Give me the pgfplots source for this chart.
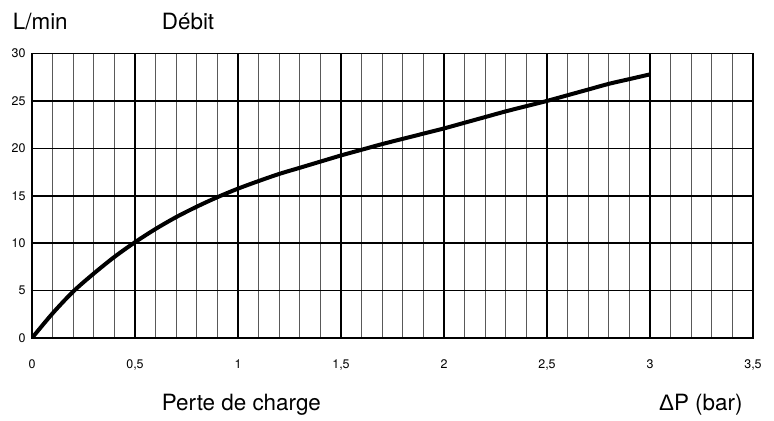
\documentclass[border=0pt]{standalone}
\usepackage{fontspec}
\setmainfont{TeX Gyre Heros}
\newfontfamily\lib{Liberation Sans}
\usepackage{pgfplots}
\pgfplotsset{compat=1.18}
\begin{document}
\begin{tikzpicture}[x=1bp,y=1bp]
\useasboundingbox (-32,-82) rectangle (742,338);
\begin{axis}[
 at={(0,0)}, anchor=south west,
 scale only axis, width=721bp, height=284.5bp,
 xmin=0,xmax=3.5,ymin=0,ymax=30,
 xtick={0,0.5,...,3.5}, xticklabels={0,{0,5},1,{1,5},2,{2,5},3,{3,5}},
 minor x tick num=4,
 ytick={0,5,...,30},
 xmajorgrids, xminorgrids, ymajorgrids,
 major grid style={black, line width=1.5bp},
 minor grid style={black!65, line width=0.9bp},
 axis line style={black, line width=1.6bp},
 major tick length=0, minor tick length=0,
 tick label style={font=\fontsize{12.5}{15}\selectfont},
 /pgf/number format/assume math mode=true,
 xticklabel style={yshift=-18bp},
 yticklabel style={xshift=-3bp},
]
\addplot[black, line width=4bp, smooth, tension=0.5] coordinates {
(0,0) (0.1,2.6) (0.2,4.9) (0.3,6.8) (0.4,8.55) (0.5,10.1) (0.6,11.5) (0.7,12.75)
(0.8,13.85) (0.9,14.85) (1.0,15.75) (1.1,16.55) (1.2,17.3) (1.3,17.95) (1.4,18.6)
(1.5,19.25) (1.6,19.85) (1.7,20.45) (1.8,21.0) (1.9,21.55) (2.0,22.1) (2.1,22.7)
(2.2,23.3) (2.3,23.9) (2.4,24.45) (2.5,25.0) (2.6,25.6) (2.7,26.2) (2.8,26.8)
(2.9,27.3) (3.0,27.8)
};
\end{axis}
\node[anchor=base west, inner sep=0, font=\fontsize{22.5}{26}\selectfont] at (-19.3,308.7) {L/min};
\node[anchor=base west, inner sep=0, font=\fontsize{22.5}{26}\selectfont] at (129.7,308.7) {Débit};
\node[anchor=base west, inner sep=0, font=\fontsize{22.5}{26}\selectfont] at (129.7,-72) {Perte de charge};
\node[anchor=base east, inner sep=0, font=\fontsize{22.5}{26}\selectfont] at (710.7,-72) {{\lib Δ}P (bar)};
\end{tikzpicture}
\end{document}
